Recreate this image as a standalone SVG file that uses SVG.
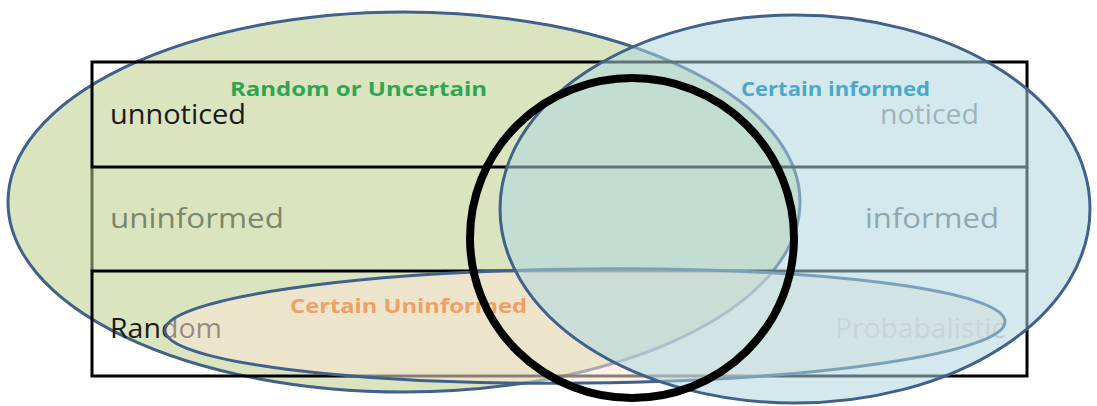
<svg xmlns="http://www.w3.org/2000/svg" width="1097" height="406" viewBox="0 0 1097 406">
<style>
.ell{stroke:#41618a;stroke-width:3}
.row{font-family:"Open Sans","Liberation Sans",sans-serif;font-size:28px}
.lab{font-family:"Open Sans","Liberation Sans",sans-serif;font-size:20px;font-weight:bold}
.box{fill:none;stroke:#000;stroke-width:3}
</style>
<rect width="1097" height="406" fill="#fff"/>
<g id="random-or-uncertain-set">
<ellipse class="ell" cx="404" cy="202" rx="396" ry="190" fill="#dae5c0"/>
</g>
<g id="row-middle">
<line x1="92" y1="167" x2="92" y2="271" stroke="#66704f" stroke-width="3"/>
<line x1="1027" y1="167" x2="1027" y2="271" stroke="#000" stroke-width="3"/>
<text class="row" x="110" y="228" fill="#7c876a" font-size="29" textLength="174" lengthAdjust="spacingAndGlyphs">uninformed</text>
<text class="row" x="999" y="228" fill="#6f6f6f" font-size="29" text-anchor="end" textLength="134" lengthAdjust="spacingAndGlyphs">informed</text>
</g>
<g id="row-top">
<rect class="box" x="92" y="62" width="935" height="105"/>
<text class="row" x="110" y="124" fill="#1a1a1a" textLength="136" lengthAdjust="spacingAndGlyphs">unnoticed</text>
<text class="row" x="979" y="124" fill="#8c8c8c" text-anchor="end" textLength="99" lengthAdjust="spacingAndGlyphs">noticed</text>
</g>
<g id="row-bottom">
<rect class="box" x="92" y="271" width="935" height="105"/>
<text class="row" x="110" y="338" fill="#1a1a1a" textLength="112" lengthAdjust="spacingAndGlyphs">Random</text>
<text class="row" x="835" y="338" fill="#c0c0c0" textLength="170" lengthAdjust="spacingAndGlyphs">Probabalistic</text>
</g>
<g id="certain-uninformed-set">
<ellipse class="ell" cx="585" cy="326" rx="420" ry="57" fill="#fbe5d6" fill-opacity="0.55" transform="rotate(-0.6 585 326)"/>
</g>
<g id="certain-informed-set">
<ellipse class="ell" cx="795" cy="209" rx="295" ry="194" fill="#aed6df" fill-opacity="0.54"/>
</g>
<g id="labels">
<text class="lab" x="230" y="96" fill="#2fa552" textLength="257" lengthAdjust="spacingAndGlyphs">Random or Uncertain</text>
<text class="lab" x="741" y="96" fill="#4aa9c4" textLength="189" lengthAdjust="spacingAndGlyphs">Certain informed</text>
<text class="lab" x="290" y="313" fill="#f0a062" textLength="237" lengthAdjust="spacingAndGlyphs">Certain Uninformed</text>
</g>
<g id="focus-circle">
<ellipse cx="632" cy="238" rx="162" ry="160" fill="none" stroke="#000" stroke-width="8"/>
</g>
</svg>
